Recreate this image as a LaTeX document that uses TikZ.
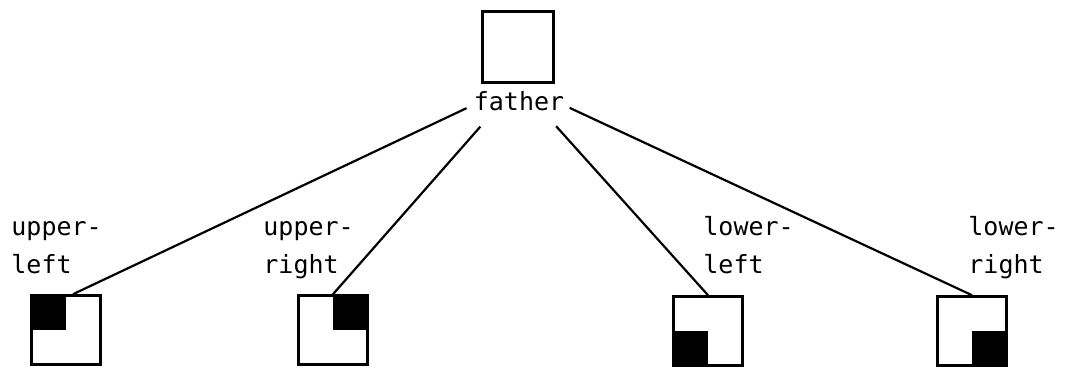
\documentclass[tikz,border=0pt]{standalone}
\usepackage{fontspec}
\setmonofont{DejaVu Sans Mono}

\begin{document}
\begin{tikzpicture}[x=0.5pt,y=-0.5pt,
  quad/.style={draw,line width=1.3pt,minimum size=34.5pt,inner sep=0pt},
  lbl/.style={font=\ttfamily\fontsize{12.5}{19}\selectfont,align=left,inner sep=0pt,anchor=base west},
  link/.style={line width=1.1pt,shorten <=28.5pt}]
\useasboundingbox (0,0) rectangle (1065,366);

\node[quad,minimum size=35.5pt] (father) at (518,47) {};
\node[lbl,anchor=base] (fathername) at (519,110) {father};

\node[quad] (ul) at (66,330) {};
\fill (ul.north west) rectangle (ul.center);
\node[quad] (ur) at (333,330) {};
\fill (ur.north east) rectangle (ur.center);
\node[quad] (ll) at (708,331) {};
\fill (ll.south west) rectangle (ll.center);
\node[quad] (lr) at (972,331) {};
\fill (lr.south east) rectangle (lr.center);

% base anchor sits on the last line
\node[lbl] (ulname) at (11,273) {upper-\\left};
\node[lbl] (urname) at (263,273) {upper-\\right};
\node[lbl] (llname) at (703,273) {lower-\\left};
\node[lbl] (lrname) at (968,273) {lower-\\right};

\draw[link] (father.south) -- ([xshift=3.5pt]ul.north);
\draw[link] (father.south) -- (ur.north);
\draw[link] (father.south) -- (ll.north);
\draw[link] (father.south) -- (lr.north);
\end{tikzpicture}
\end{document}
